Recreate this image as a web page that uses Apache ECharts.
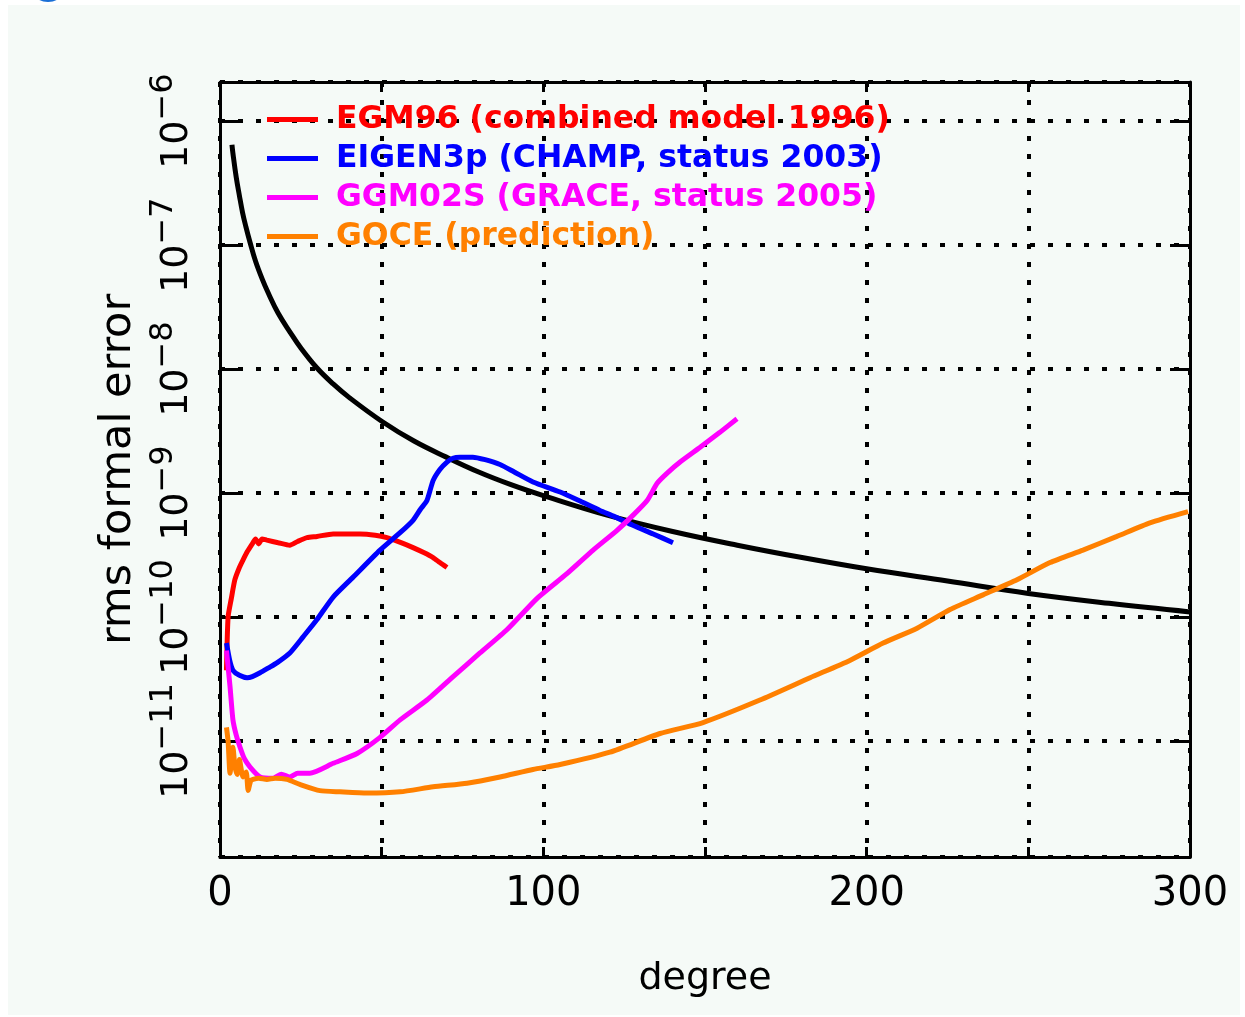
<!DOCTYPE html>
<html>
<head>
<meta charset="utf-8">
<script src="https://cdn.jsdelivr.net/npm/echarts@6/dist/echarts.min.js"></script>
<style>
html,body{margin:0;padding:0;background:#ffffff;}
#chart{width:1245px;height:1017px;}
</style>
</head>
<body>
<div id="chart"></div>
<script>
// ---- data ----
const xTickLabels = [0, 100, 200, 300];

const seriesNames = [
  'EGM96 (combined model 1996)',
  'EIGEN3p (CHAMP, status 2003)',
  'GGM02S (GRACE, status 2005)',
  'GOCE (prediction)'
];

// black reference curve (signal)
const signalDeg = [3.7, 4, 5, 6, 7, 8, 9.3, 11, 13, 15, 18, 21.6, 25, 30, 35, 40, 50, 60, 70, 80, 90, 100, 120, 140, 160, 180, 200, 225, 250, 275, 300];
const signalVal = [6.46e-7, 5.50e-7, 3.55e-7, 2.51e-7, 1.82e-7, 1.41e-7, 1.05e-7, 7.41e-8, 5.37e-8, 4.07e-8, 2.82e-8, 2.0e-8, 1.48e-8, 1.02e-8, 7.59e-9, 5.89e-9, 3.80e-9, 2.63e-9, 1.95e-9, 1.48e-9, 1.17e-9, 9.55e-10, 6.61e-10, 4.90e-10, 3.80e-10, 3.02e-10, 2.45e-10, 1.95e-10, 1.55e-10, 1.29e-10, 1.10e-10];

// EGM96
const egmDeg = [2, 2.5, 3.5, 4.6, 6, 7.1, 8.5, 10.2, 11, 12, 13, 14.5, 18, 21.6, 24, 26.9, 30, 35, 40, 43.3, 48, 51.6, 56, 59.7, 63, 65.9, 68, 70.2];
const egmVal = [3.72e-11, 1.0e-10, 1.41e-10, 2.0e-10, 2.51e-10, 2.88e-10, 3.39e-10, 3.98e-10, 4.27e-10, 3.89e-10, 4.27e-10, 4.17e-10, 3.98e-10, 3.80e-10, 4.07e-10, 4.37e-10, 4.47e-10, 4.68e-10, 4.68e-10, 4.68e-10, 4.57e-10, 4.37e-10, 3.98e-10, 3.63e-10, 3.31e-10, 3.02e-10, 2.75e-10, 2.51e-10];

// EIGEN3p
const eigenDeg = [2, 3, 4, 6, 8.4, 10, 12.4, 15, 17.6, 21.6, 25.7, 30, 35, 41.1, 49.5, 55.7, 59.7, 62, 64, 65.9, 68, 70.2, 72, 74.2, 78.2, 82, 86.6, 91, 96.8, 105.2, 111, 117.5, 122, 127.7, 134, 140.1];
const eigenVal = [6.17e-11, 4.47e-11, 3.72e-11, 3.39e-11, 3.24e-11, 3.31e-11, 3.55e-11, 3.89e-11, 4.27e-11, 5.13e-11, 6.92e-11, 9.55e-11, 1.45e-10, 2.09e-10, 3.47e-10, 4.79e-10, 6.03e-10, 7.41e-10, 8.71e-10, 1.26e-9, 1.55e-9, 1.78e-9, 1.91e-9, 1.95e-9, 1.95e-9, 1.86e-9, 1.70e-9, 1.48e-9, 1.23e-9, 1.02e-9, 8.71e-10, 7.24e-10, 6.46e-10, 5.50e-10, 4.68e-10, 3.98e-10];

// GGM02S
const ggmDeg = [2, 3.1, 4, 5, 6.2, 7.5, 9.3, 12.4, 16.4, 19, 21.6, 24, 27.8, 35, 42.4, 49.5, 55.7, 64, 72.1, 80.4, 88.8, 98, 107.3, 115.4, 122.8, 127.7, 132.1, 135.2, 138.3, 142.3, 148.5, 154.6, 159.9];
const ggmVal = [5.37e-11, 2.75e-11, 1.48e-11, 1.12e-11, 8.91e-12, 7.24e-12, 6.17e-12, 5.13e-12, 5.01e-12, 5.4e-12, 5.13e-12, 5.5e-12, 5.50e-12, 6.61e-12, 7.94e-12, 1.07e-11, 1.48e-11, 2.14e-11, 3.31e-11, 5.13e-11, 7.94e-11, 1.41e-10, 2.24e-10, 3.47e-10, 5.01e-10, 6.61e-10, 8.71e-10, 1.20e-9, 1.45e-9, 1.78e-9, 2.34e-9, 3.09e-9, 3.98e-9];

// GOCE
const goceDeg = [2, 2.5, 3.1, 4, 4.6, 5.3, 6, 7.1, 8.1, 8.7, 9.5, 10.2, 12, 14.5, 17, 20.7, 24.7, 30.9, 37.1, 45.5, 55.7, 65.9, 76.4, 86.6, 96.8, 105.2, 120.6, 136.1, 149.4, 167, 182.5, 194.8, 205.1, 215.6, 225.8, 236, 246.5, 256.7, 266.9, 277.4, 287.6, 299.4];
const goceVal = [1.29e-11, 1.0e-11, 5.50e-12, 8.91e-12, 6.31e-12, 5.37e-12, 7.08e-12, 5.13e-12, 5.62e-12, 3.98e-12, 4.79e-12, 4.90e-12, 5.01e-12, 4.90e-12, 5.01e-12, 4.90e-12, 4.47e-12, 3.98e-12, 3.89e-12, 3.80e-12, 3.89e-12, 4.27e-12, 4.57e-12, 5.13e-12, 5.89e-12, 6.46e-12, 8.13e-12, 1.15e-11, 1.41e-11, 2.14e-11, 3.24e-11, 4.47e-11, 6.17e-11, 8.13e-11, 1.15e-10, 1.51e-10, 2.0e-10, 2.75e-10, 3.47e-10, 4.47e-10, 5.75e-10, 7.08e-10];

const seriesColors = ['#ff0000', '#0000ff', '#ff00ff', '#ff8000'];

// ---- chart ----
const zip = (a, b) => a.map((d, i) => [d, b[i]]);
const yMin = 1.16e-12, yMax = 2.07e-6;
const FONT = 'DejaVu Sans';
const gridDots = { color: '#000', width: 4, type: [5, 13] };

const chart = echarts.init(document.getElementById('chart'), null, { renderer: 'canvas' });

function lineSeries(name, data, color, smooth) {
  return {
    name: name, type: 'line', data: data, xAxisIndex: 0, yAxisIndex: 0,
    showSymbol: false, symbol: 'none', smooth: smooth, clip: true,
    lineStyle: { width: 5, color: color }, itemStyle: { color: color },
    emphasis: { disabled: true }
  };
}

const option = {
  animation: false,
  backgroundColor: '#ffffff',
  graphic: [
    { type: 'rect', z: -100, silent: true, shape: { x: 8, y: 5, width: 1232, height: 1010 }, style: { fill: '#f5faf7' } },
    { type: 'ellipse', z: -90, silent: true, shape: { cx: 48, cy: -6, rx: 13, ry: 8 }, style: { fill: '#1a6fd6' } }
  ],
  grid: { left: 220, right: 55, top: 82, bottom: 160, containLabel: false },
  legend: {
    orient: 'vertical', left: 262, top: 95, itemWidth: 51, itemHeight: 5, itemGap: 0,
    icon: 'rect', selectedMode: false,
    textStyle: { fontFamily: FONT, fontWeight: 'bold', fontSize: 31.5, lineHeight: 39, padding: [0, 0, 0, 13] },
    data: seriesNames.map((n, i) => ({ name: n, textStyle: { color: seriesColors[i] } }))
  },
  xAxis: [
    {
      type: 'value', position: 'bottom', min: 0, max: 300, interval: 50,
      axisLine: { show: true, onZero: false, lineStyle: { color: '#000', width: 3 } },
      axisTick: { show: true, inside: true, length: 10, lineStyle: { color: '#000', width: 3 } },
      axisLabel: {
        color: '#000', fontFamily: FONT, fontSize: 40, margin: 18,
        formatter: v => (xTickLabels.indexOf(v) >= 0 ? String(v) : '')
      },
      splitLine: { show: true, lineStyle: gridDots },
      name: 'degree', nameLocation: 'middle', nameGap: 103,
      nameTextStyle: { color: '#000', fontFamily: FONT, fontSize: 38 }
    },
    {
      type: 'value', position: 'top', min: 0, max: 300, interval: 50,
      axisLine: { show: true, onZero: false, lineStyle: { color: '#000', width: 3 } },
      axisTick: { show: true, inside: true, length: 10, lineStyle: { color: '#000', width: 3 } },
      axisLabel: { show: false }, splitLine: { show: false }
    }
  ],
  yAxis: [
    {
      type: 'log', logBase: 10, position: 'left', min: yMin, max: yMax,
      axisLine: { show: true, onZero: false, lineStyle: { color: '#000', width: 3 } },
      axisTick: { show: true, inside: true, length: 20, lineStyle: { color: '#000', width: 3 } },
      axisLabel: {
        rotate: 90, margin: 14, color: '#000',
        formatter: function (v) {
          const e = Math.log10(v), r = Math.round(e);
          if (Math.abs(e - r) > 1e-6) return '';
          return '{b|10}{s|\u2212' + (-r) + '}';
        },
        rich: {
          b: { fontFamily: FONT, fontSize: 38, lineHeight: 58, color: '#000' },
          s: { fontFamily: FONT, fontSize: 32, lineHeight: 26, verticalAlign: 'top', color: '#000' }
        }
      },
      splitLine: { show: true, lineStyle: gridDots },
      name: 'rms formal error', nameLocation: 'middle', nameGap: 80,
      nameTextStyle: { color: '#000', fontFamily: FONT, fontSize: 43 }
    },
    {
      type: 'log', logBase: 10, position: 'right', min: yMin, max: yMax,
      axisLine: { show: true, onZero: false, lineStyle: { color: '#000', width: 3 } },
      axisTick: { show: true, inside: true, length: 20, lineStyle: { color: '#000', width: 3 } },
      axisLabel: { show: false }, splitLine: { show: false }
    }
  ],
  series: [
    lineSeries('signal', zip(signalDeg, signalVal), '#000000', 0.4),
    lineSeries(seriesNames[0], zip(egmDeg, egmVal), seriesColors[0], 0.2),
    lineSeries(seriesNames[1], zip(eigenDeg, eigenVal), seriesColors[1], 0.2),
    lineSeries(seriesNames[2], zip(ggmDeg, ggmVal), seriesColors[2], 0.2),
    lineSeries(seriesNames[3], zip(goceDeg, goceVal), seriesColors[3], 0.2)
  ]
};
chart.setOption(option);
</script>
</body>
</html>
